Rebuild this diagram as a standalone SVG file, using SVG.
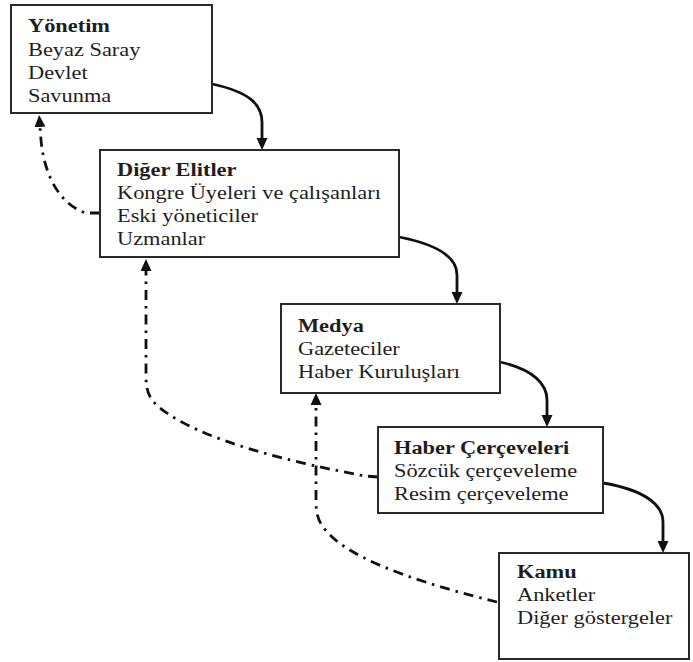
<svg xmlns="http://www.w3.org/2000/svg" width="693" height="662" viewBox="0 0 693 662">
<style>
.box{fill:#fff;stroke:#2a2a2a;stroke-width:2}
.t{font-family:"Liberation Serif","Times New Roman",serif;font-size:18.5px;fill:#1e1e1e}
.b{font-weight:bold}
.solid{fill:none;stroke:#111;stroke-width:2.8}
.dash{fill:none;stroke:#111;stroke-width:2.8;stroke-dasharray:10 6 2.5 6}
</style>
<defs>
<marker id="ah" markerUnits="userSpaceOnUse" markerWidth="14" markerHeight="12" refX="0" refY="5.5" orient="auto">
<path d="M0,0 L12,5.5 L0,11 z" fill="#111"/>
</marker>
</defs>
<rect width="693" height="662" fill="#fff"/>
<g id="connectors">
<path class="solid" d="M212,84 C250,92 262,105 262,122 L262,138" marker-end="url(#ah)"/>
<path class="solid" d="M399,237 C440,245 457,258 457,275 L457,292" marker-end="url(#ah)"/>
<path class="solid" d="M500,362 C535,370 547,385 547,400 L547,415" marker-end="url(#ah)"/>
<path class="solid" d="M603,483 C645,490 663,505 663,522 L663,541" marker-end="url(#ah)"/>
<path class="dash" d="M100,213 L86,213 C60,205 44,175 41,140 L40,127" marker-end="url(#ah)"/>
<path class="dash" d="M378,477 L365,476 C290,462 200,440 160,408 C148,398 146,390 146,375 L146,271" marker-end="url(#ah)"/>
<path class="dash" d="M497,602 C440,588 360,565 330,535 C318,523 316,515 316,500 L316,405" marker-end="url(#ah)"/>
</g>
<g id="yonetim">
<rect class="box" x="11" y="5" width="201" height="108"/>
<text class="t b" transform="translate(28,32) scale(1.21,1)">Yönetim</text>
<text class="t" transform="translate(28,56) scale(1.21,1)">Beyaz Saray</text>
<text class="t" transform="translate(28,79) scale(1.21,1)">Devlet</text>
<text class="t" transform="translate(28,102) scale(1.21,1)">Savunma</text>
</g>
<g id="diger-elitler">
<rect class="box" x="100" y="150" width="299" height="107"/>
<text class="t b" transform="translate(117,176) scale(1.21,1)">Diğer Elitler</text>
<text class="t" transform="translate(117,199) scale(1.21,1)">Kongre Üyeleri ve çalışanları</text>
<text class="t" transform="translate(117,222) scale(1.21,1)">Eski yöneticiler</text>
<text class="t" transform="translate(117,245) scale(1.21,1)">Uzmanlar</text>
</g>
<g id="medya">
<rect class="box" x="281" y="304" width="219" height="89"/>
<text class="t b" transform="translate(298,332) scale(1.21,1)">Medya</text>
<text class="t" transform="translate(298,355) scale(1.21,1)">Gazeteciler</text>
<text class="t" transform="translate(298,378) scale(1.21,1)">Haber Kuruluşları</text>
</g>
<g id="haber-cerceveleri">
<rect class="box" x="378" y="427" width="225" height="86"/>
<text class="t b" transform="translate(394,454) scale(1.21,1)">Haber Çerçeveleri</text>
<text class="t" transform="translate(394,477) scale(1.21,1)">Sözcük çerçeveleme</text>
<text class="t" transform="translate(394,500) scale(1.21,1)">Resim çerçeveleme</text>
</g>
<g id="kamu">
<rect class="box" x="499" y="553" width="190" height="106"/>
<text class="t b" transform="translate(517,578) scale(1.21,1)">Kamu</text>
<text class="t" transform="translate(517,601) scale(1.21,1)">Anketler</text>
<text class="t" transform="translate(517,624) scale(1.21,1)">Diğer göstergeler</text>
</g>
</svg>
